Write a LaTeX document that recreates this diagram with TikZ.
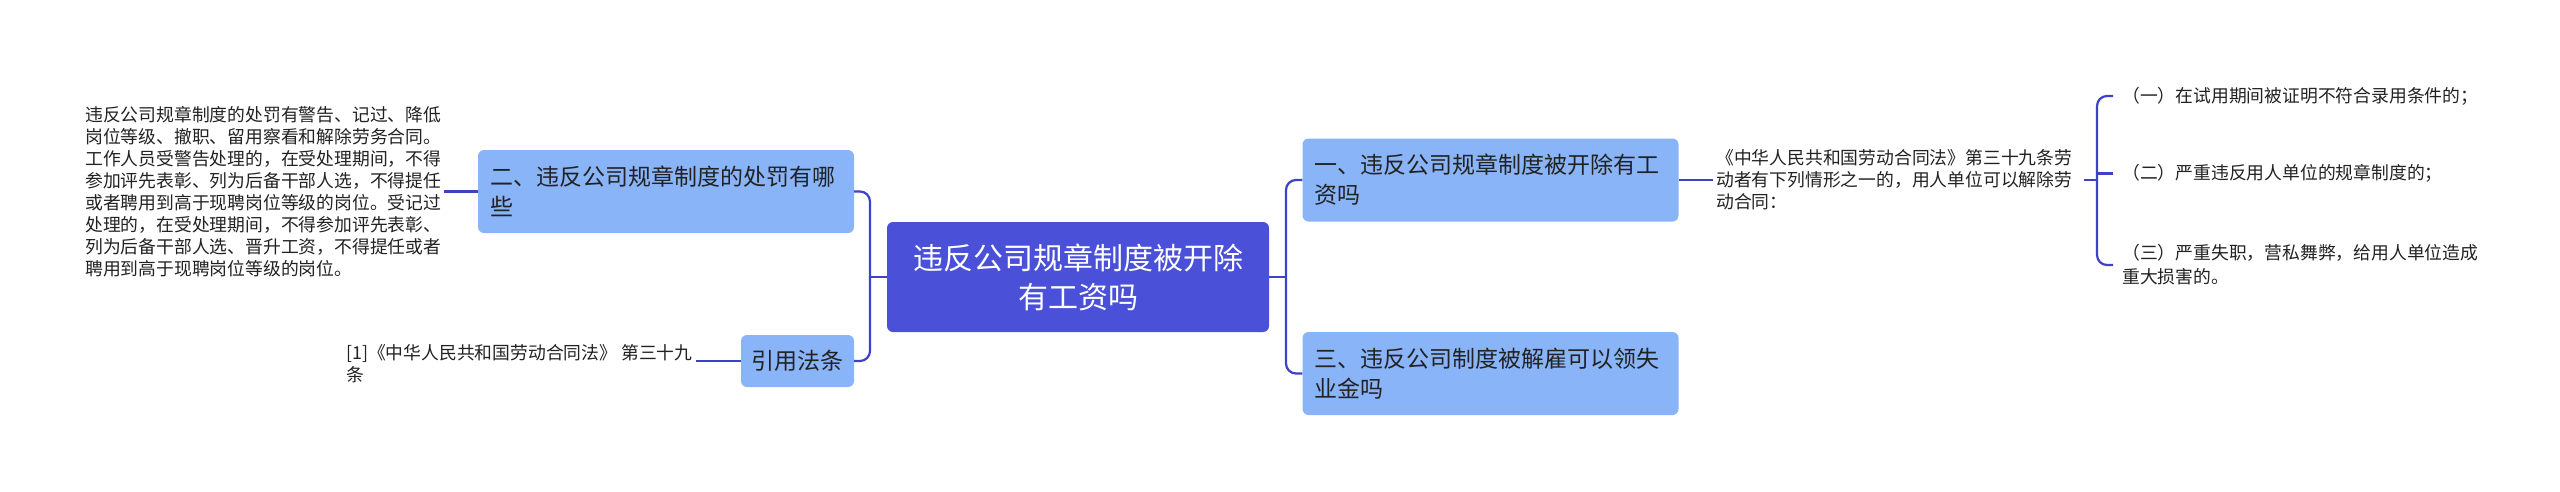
\documentclass[tikz,border=0pt]{standalone}
\usepackage{fontspec}
\setmainfont{Noto Sans CJK SC}
\definecolor{cfill}{RGB}{74,80,216}
\definecolor{lfill}{RGB}{138,180,248}
\definecolor{linec}{RGB}{62,66,196}
\definecolor{tdark}{RGB}{34,34,34}
\begin{document}
\begin{tikzpicture}[x=1pt,y=-1pt,
  rootbox/.style={fill=cfill,rounded corners=6pt,minimum width=382pt,minimum height=110pt,
    align=center,text=white,inner sep=0pt,font=\fontsize{30pt}{39pt}\selectfont},
  subbox/.style={fill=lfill,rounded corners=6pt,minimum width=376pt,minimum height=83pt,
    text width=352pt,align=left,inner xsep=12pt,inner ysep=0pt,text=tdark,
    font=\fontsize{23pt}{30pt}\selectfont},
  smallbox/.style={fill=lfill,rounded corners=6pt,minimum width=113pt,minimum height=52pt,
    align=center,inner sep=0pt,text=tdark,font=\fontsize{23pt}{30pt}\selectfont},
  para/.style={align=left,inner xsep=3pt,inner ysep=0pt,text=tdark,
    font=\fontsize{17.8pt}{22pt}\selectfont},
  item/.style={align=left,inner xsep=9pt,inner ysep=0pt,text=tdark,
    font=\fontsize{17.8pt}{24pt}\selectfont},
  conn/.style={draw=linec,line width=2.2pt},
  rc/.style={conn,rounded corners=10pt}]
\useasboundingbox (0,0) rectangle (2560,491);
\fill[white] (0,0) rectangle (2560,491);

\node[rootbox] (root) at (1078,277) {违反公司规章制度被开除\\有工资吗};

\node[subbox] (n2) at (666,191.5) {二、违反公司规章制度的处罚有哪\\些};
\node[smallbox] (yy) at (797.5,361) {引用法条};
\node[subbox] (n1) at (1490.5,180) {一、违反公司规章制度被开除有工\\资吗};
\node[subbox] (n3) at (1490.5,373.5) {三、违反公司制度被解雇可以领失\\业金吗};

\node[para,anchor=west] (lp) at (82,191.5) {违反公司规章制度的处罚有警告、记过、降低\\岗位等级、撤职、留用察看和解除劳务合同。\\工作人员受警告处理的，在受处理期间，不得\\参加评先表彰、列为后备干部人选，不得提任\\或者聘用到高于现聘岗位等级的岗位。受记过\\处理的，在受处理期间，不得参加评先表彰、\\列为后备干部人选、晋升工资，不得提任或者\\聘用到高于现聘岗位等级的岗位。};

\node[para,anchor=west] (cite) at (343,363.5) {[1]《中华人民共和国劳动合同法》 第三十九\\条};

\node[para,anchor=west] (rp) at (1713,180) {《中华人民共和国劳动合同法》第三十九条劳\\动者有下列情形之一的，用人单位可以解除劳\\动合同：};

\node[item,anchor=west] (i1) at (2113,96) {（一）在试用期间被证明不符合录用条件的；};
\node[item,anchor=west] (i2) at (2113,173.5) {（二）严重违反用人单位的规章制度的；};
\node[item,anchor=west] (i3) at (2113,265) {（三）严重失职，营私舞弊，给用人单位造成\\重大损害的。};

\coordinate (lj) at (870,277);
\coordinate (rj) at (1286,277);
\coordinate (bj) at (2097,180);

\draw[conn] (root.west) -- (lj);
\draw[rc] (lj) |- (n2.east);
\draw[rc] (lj) |- (yy.east);
\draw[conn] (root.east) -- (rj);
\draw[rc] (rj) |- (n1.west);
\draw[rc] (rj) |- (n3.west);

\draw[conn] (n2.west) -- (n2.west -| lp.east);
\draw[conn] (yy.west) -- (yy.west -| cite.east);
\draw[conn] (n1.east) -- (n1.east -| rp.west);

\draw[conn] ([xshift=9pt]rp.east) -- (bj);
\draw[rc] (bj) |- (i1.west);
\draw[rc] (bj) |- (i3.west);
\draw[conn] (bj |- i2.west) -- (i2.west);
\end{tikzpicture}
\end{document}
